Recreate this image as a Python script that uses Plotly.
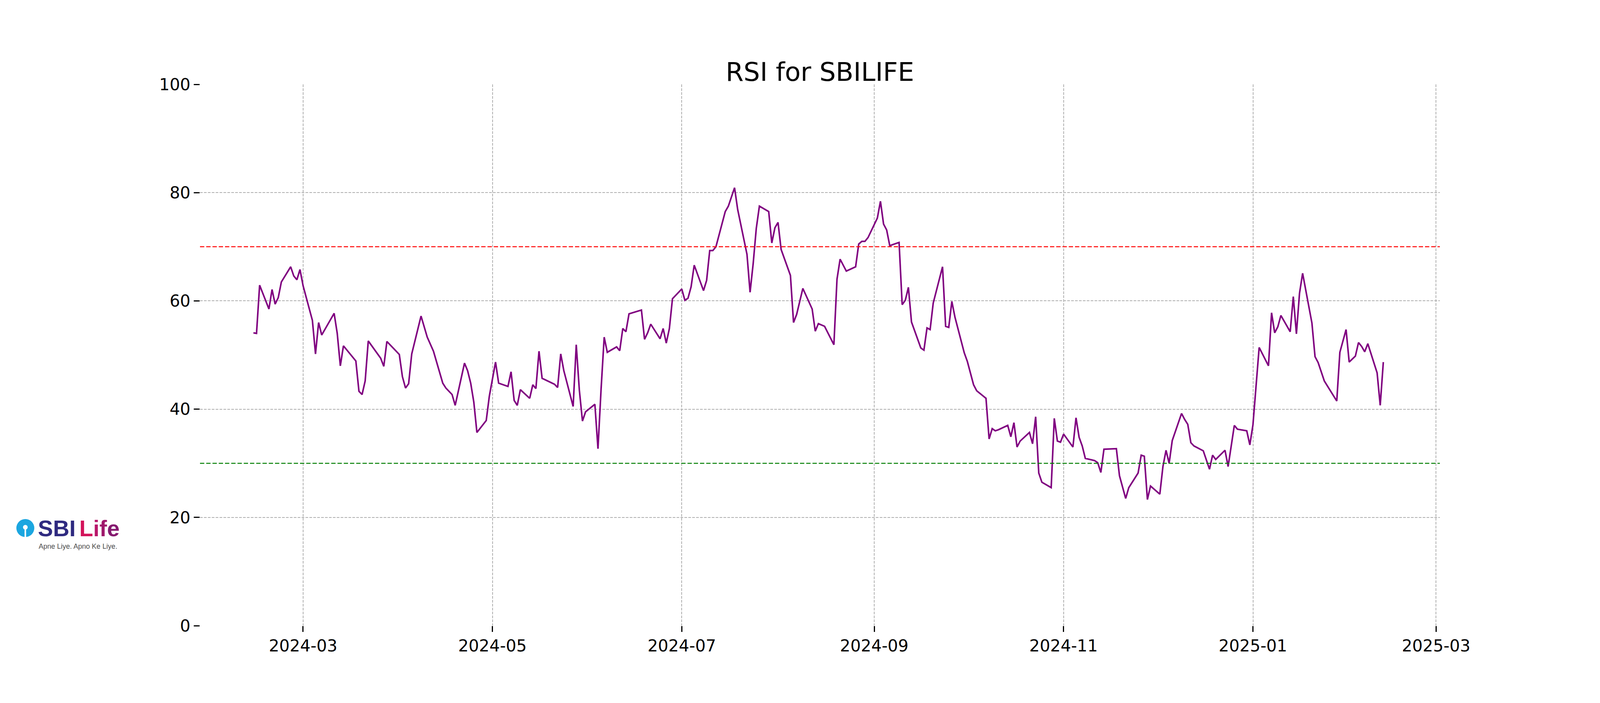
import plotly.graph_objects as go

# ---------------- data ----------------
dates = [
    "2024-02-14", "2024-02-15", "2024-02-16", "2024-02-19", "2024-02-20", "2024-02-21", "2024-02-22", "2024-02-23",
    "2024-02-26", "2024-02-27", "2024-02-28", "2024-02-29", "2024-03-01", "2024-03-04", "2024-03-05", "2024-03-06",
    "2024-03-07", "2024-03-11", "2024-03-12", "2024-03-13", "2024-03-14", "2024-03-18", "2024-03-19", "2024-03-20",
    "2024-03-21", "2024-03-22", "2024-03-26", "2024-03-27", "2024-03-28", "2024-04-01", "2024-04-02", "2024-04-03",
    "2024-04-04", "2024-04-05", "2024-04-08", "2024-04-09", "2024-04-10", "2024-04-12", "2024-04-15", "2024-04-16",
    "2024-04-18", "2024-04-19", "2024-04-22", "2024-04-23", "2024-04-24", "2024-04-25", "2024-04-26", "2024-04-29",
    "2024-04-30", "2024-05-02", "2024-05-03", "2024-05-06", "2024-05-07", "2024-05-08", "2024-05-09", "2024-05-10",
    "2024-05-13", "2024-05-14", "2024-05-15", "2024-05-16", "2024-05-17", "2024-05-21", "2024-05-22", "2024-05-23",
    "2024-05-24", "2024-05-27", "2024-05-28", "2024-05-29", "2024-05-30", "2024-05-31", "2024-06-03", "2024-06-04",
    "2024-06-05", "2024-06-06", "2024-06-07", "2024-06-10", "2024-06-11", "2024-06-12", "2024-06-13", "2024-06-14",
    "2024-06-18", "2024-06-19", "2024-06-20", "2024-06-21", "2024-06-24", "2024-06-25", "2024-06-26", "2024-06-27",
    "2024-06-28", "2024-07-01", "2024-07-02", "2024-07-03", "2024-07-04", "2024-07-05", "2024-07-08", "2024-07-09",
    "2024-07-10", "2024-07-11", "2024-07-12", "2024-07-15", "2024-07-16", "2024-07-18", "2024-07-19", "2024-07-22",
    "2024-07-23", "2024-07-24", "2024-07-25", "2024-07-26", "2024-07-29", "2024-07-30", "2024-07-31", "2024-08-01",
    "2024-08-02", "2024-08-05", "2024-08-06", "2024-08-07", "2024-08-09", "2024-08-12", "2024-08-13", "2024-08-14",
    "2024-08-16", "2024-08-19", "2024-08-20", "2024-08-21", "2024-08-23", "2024-08-26", "2024-08-27", "2024-08-28",
    "2024-08-29", "2024-08-30", "2024-09-02", "2024-09-03", "2024-09-04", "2024-09-05", "2024-09-06", "2024-09-09",
    "2024-09-10", "2024-09-11", "2024-09-12", "2024-09-13", "2024-09-16", "2024-09-17", "2024-09-18", "2024-09-19",
    "2024-09-20", "2024-09-23", "2024-09-24", "2024-09-25", "2024-09-26", "2024-09-27", "2024-09-30", "2024-10-01",
    "2024-10-03", "2024-10-04", "2024-10-07", "2024-10-08", "2024-10-09", "2024-10-10", "2024-10-11", "2024-10-14",
    "2024-10-15", "2024-10-16", "2024-10-17", "2024-10-18", "2024-10-21", "2024-10-22", "2024-10-23", "2024-10-24",
    "2024-10-25", "2024-10-28", "2024-10-29", "2024-10-30", "2024-10-31", "2024-11-01", "2024-11-04", "2024-11-05",
    "2024-11-06", "2024-11-07", "2024-11-08", "2024-11-11", "2024-11-12", "2024-11-13", "2024-11-14", "2024-11-18",
    "2024-11-19", "2024-11-21", "2024-11-22", "2024-11-25", "2024-11-26", "2024-11-27", "2024-11-28", "2024-11-29",
    "2024-12-02", "2024-12-03", "2024-12-04", "2024-12-05", "2024-12-06", "2024-12-09", "2024-12-10", "2024-12-11",
    "2024-12-12", "2024-12-13", "2024-12-16", "2024-12-18", "2024-12-19", "2024-12-20", "2024-12-23", "2024-12-24",
    "2024-12-26", "2024-12-27", "2024-12-30", "2024-12-31", "2025-01-01", "2025-01-03", "2025-01-06", "2025-01-07",
    "2025-01-08", "2025-01-09", "2025-01-10", "2025-01-13", "2025-01-14", "2025-01-15", "2025-01-16", "2025-01-17",
    "2025-01-20", "2025-01-21", "2025-01-22", "2025-01-24", "2025-01-28", "2025-01-29", "2025-01-31", "2025-02-01",
    "2025-02-03", "2025-02-04", "2025-02-05", "2025-02-06", "2025-02-07", "2025-02-10", "2025-02-11", "2025-02-12",
]

rsi = [
    54.1, 54.0, 62.9, 58.5, 62.1, 59.4, 60.6, 63.5,
    66.3, 64.6, 63.9, 65.8, 62.8, 56.4, 50.2, 56.0,
    53.7, 57.7, 54.0, 48.0, 51.7, 48.9, 43.3, 42.7,
    45.2, 52.6, 49.4, 47.9, 52.5, 50.1, 46.0, 43.9,
    44.7, 50.2, 57.2, 55.2, 53.3, 50.7, 44.8, 43.9,
    42.7, 40.7, 48.5, 47.1, 44.8, 41.3, 35.7, 37.9,
    42.4, 48.7, 44.8, 44.2, 46.9, 41.6, 40.7, 43.6,
    42.0, 44.5, 43.8, 50.7, 45.7, 44.6, 44.0, 50.2,
    47.1, 40.5, 51.9, 43.5, 37.8, 39.5, 40.9, 32.7,
    43.7, 53.3, 50.5, 51.5, 50.8, 54.9, 54.3, 57.6,
    58.3, 52.9, 54.1, 55.7, 53.0, 54.9, 52.2, 54.9,
    60.4, 62.2, 60.1, 60.5, 62.6, 66.6, 61.9, 63.8,
    69.3, 69.3, 70.0, 76.5, 77.5, 80.9, 76.9, 68.6,
    61.6, 66.9, 73.4, 77.5, 76.5, 70.7, 73.5, 74.5,
    69.5, 64.7, 56.0, 57.5, 62.3, 58.5, 54.4, 55.8,
    55.3, 51.9, 64.0, 67.7, 65.5, 66.3, 70.5, 71.0,
    71.0, 71.7, 75.3, 78.4, 74.2, 73.1, 70.2, 70.8,
    59.3, 60.1, 62.5, 56.1, 51.3, 50.9, 55.0, 54.7,
    59.6, 66.3, 55.3, 55.1, 59.9, 57.0, 50.4, 48.8,
    44.5, 43.4, 42.0, 34.5, 36.4, 36.0, 36.2, 37.0,
    34.9, 37.5, 33.0, 34.1, 35.7, 33.6, 38.6, 28.2,
    26.5, 25.5, 38.3, 34.1, 33.9, 35.4, 33.0, 38.4,
    34.8, 33.2, 30.9, 30.5, 30.1, 28.3, 32.6, 32.7,
    27.7, 23.5, 25.5, 28.2, 31.5, 31.3, 23.3, 25.8,
    24.3, 29.4, 32.4, 30.0, 34.2, 39.2, 38.1, 37.2,
    33.8, 33.2, 32.3, 28.9, 31.5, 30.7, 32.4, 29.4,
    37.0, 36.3, 36.0, 33.4, 37.1, 51.4, 48.0, 57.8,
    54.1, 55.2, 57.3, 54.3, 60.8, 53.9, 61.4, 65.1,
    55.9, 49.7, 48.6, 45.2, 41.5, 50.5, 54.7, 48.7,
    49.8, 52.3, 51.6, 50.6, 52.1, 46.7, 40.7, 48.7,
]

overbought = 70
oversold = 30

x_tick_vals = ["2024-03-01", "2024-05-01", "2024-07-01", "2024-09-01",
               "2024-11-01", "2025-01-01", "2025-03-01"]
x_tick_text = ["2024-03", "2024-05", "2024-07", "2024-09", "2024-11", "2025-01", "2025-03"]
y_tick_vals = [0, 20, 40, 60, 80, 100]
y_tick_text = ["0", "20", "40", "60", "80", "100"]

title_text = "RSI for SBILIFE"

# ---------------- figure ----------------
# The browser viewport is 4096 px wide; the layout is the 4800-px reference
# compressed horizontally to fit.
W, H = 4096, 1800
SX = W / 4800.0
ML, MR, MT, MB = round(600 * SX), round(480 * SX), 216, 198
PW, PH = W - ML - MR, H - MT - MB


def pxa(xabs):
    """absolute x pixel -> paper coordinate"""
    return (xabs - ML) / PW


def py(yp):
    """absolute y pixel (from top) -> paper coordinate"""
    return (H - MB - yp) / PH


FONT = "DejaVu Sans"

fig = go.Figure()
fig.add_trace(go.Scatter(
    x=dates, y=rsi, mode="lines",
    line=dict(color="#800080", width=4),
    hoverinfo="skip", showlegend=False,
))

grid_kw = dict(showgrid=True, gridcolor="#b0b0b0", gridwidth=2, griddash="7px,3px",
               showline=False, zeroline=False, ticks="outside", ticklen=15,
               tickwidth=3, tickcolor="black",
               tickfont=dict(family=FONT, size=42, color="black"))

fig.update_xaxes(range=["2024-01-27 19:00", "2025-03-02 05:00"],
                 tickmode="array", tickvals=x_tick_vals, ticktext=x_tick_text, **grid_kw)
fig.update_yaxes(range=[0, 100], tickmode="array", tickvals=y_tick_vals,
                 ticktext=y_tick_text, **grid_kw)

for level, col in [(overbought, "red"), (oversold, "green")]:
    fig.add_shape(type="line", xref="paper", yref="y", x0=0, x1=1, y0=level, y1=level,
                  line=dict(color=col, width=2.5, dash="11px,5px"))

# ---- SBI Life logo (drawn) ----
cx, cy, r = 76 * SX, 1352, 23

fig.add_shape(type="circle", xref="paper", yref="paper",
              x0=pxa(cx - r), x1=pxa(cx + r), y0=py(cy + r), y1=py(cy - r),
              fillcolor="#1ba6e0", line=dict(width=0), layer="above")
fig.add_shape(type="circle", xref="paper", yref="paper",
              x0=pxa(cx - 6), x1=pxa(cx + 6), y0=py(cy + 4), y1=py(cy - 8),
              fillcolor="white", line=dict(width=0), layer="above")
fig.add_shape(type="rect", xref="paper", yref="paper",
              x0=pxa(cx - 2), x1=pxa(cx + 2), y0=py(cy + r + 1), y1=py(cy - 2),
              fillcolor="white", line=dict(width=0), layer="above")

fig.add_annotation(xref="paper", yref="paper", x=pxa(cx + 30), y=py(1352), xanchor="left", yanchor="middle",
                   text="<b>SBI</b>", showarrow=False,
                   font=dict(family="Liberation Sans", size=58, color="#2f2a80"))
fig.add_annotation(xref="paper", yref="paper", x=pxa(cx + 136), y=py(1352), xanchor="left", yanchor="middle",
                   text="<b><span style='color:#d3145a'>L</span><span style='color:#b8176a'>i</span>"
                        "<span style='color:#a0196c'>f</span><span style='color:#86196f'>e</span></b>",
                   showarrow=False, font=dict(family="Liberation Sans", size=58, color="#d3145a"))
fig.add_annotation(xref="paper", yref="paper", x=pxa(cx + 32), y=py(1399), xanchor="left", yanchor="middle",
                   text="Apne Liye. Apno Ke Liye.", showarrow=False,
                   font=dict(family="Liberation Sans", size=18, color="#4a4a4a"))

fig.update_layout(
    width=W, height=H,
    margin=dict(l=ML, r=MR, t=MT, b=MB, pad=0),
    plot_bgcolor="white", paper_bgcolor="white",
    showlegend=False,
    title=dict(text=title_text, xref="paper", x=0.5, xanchor="center",
               yref="container", y=1 - 207 / H, yanchor="bottom",
               font=dict(family=FONT, size=66, color="black")),
)

fig.write_html("out.html", config={"displayModeBar": False},
               post_script="document.body.style.margin='0';")
